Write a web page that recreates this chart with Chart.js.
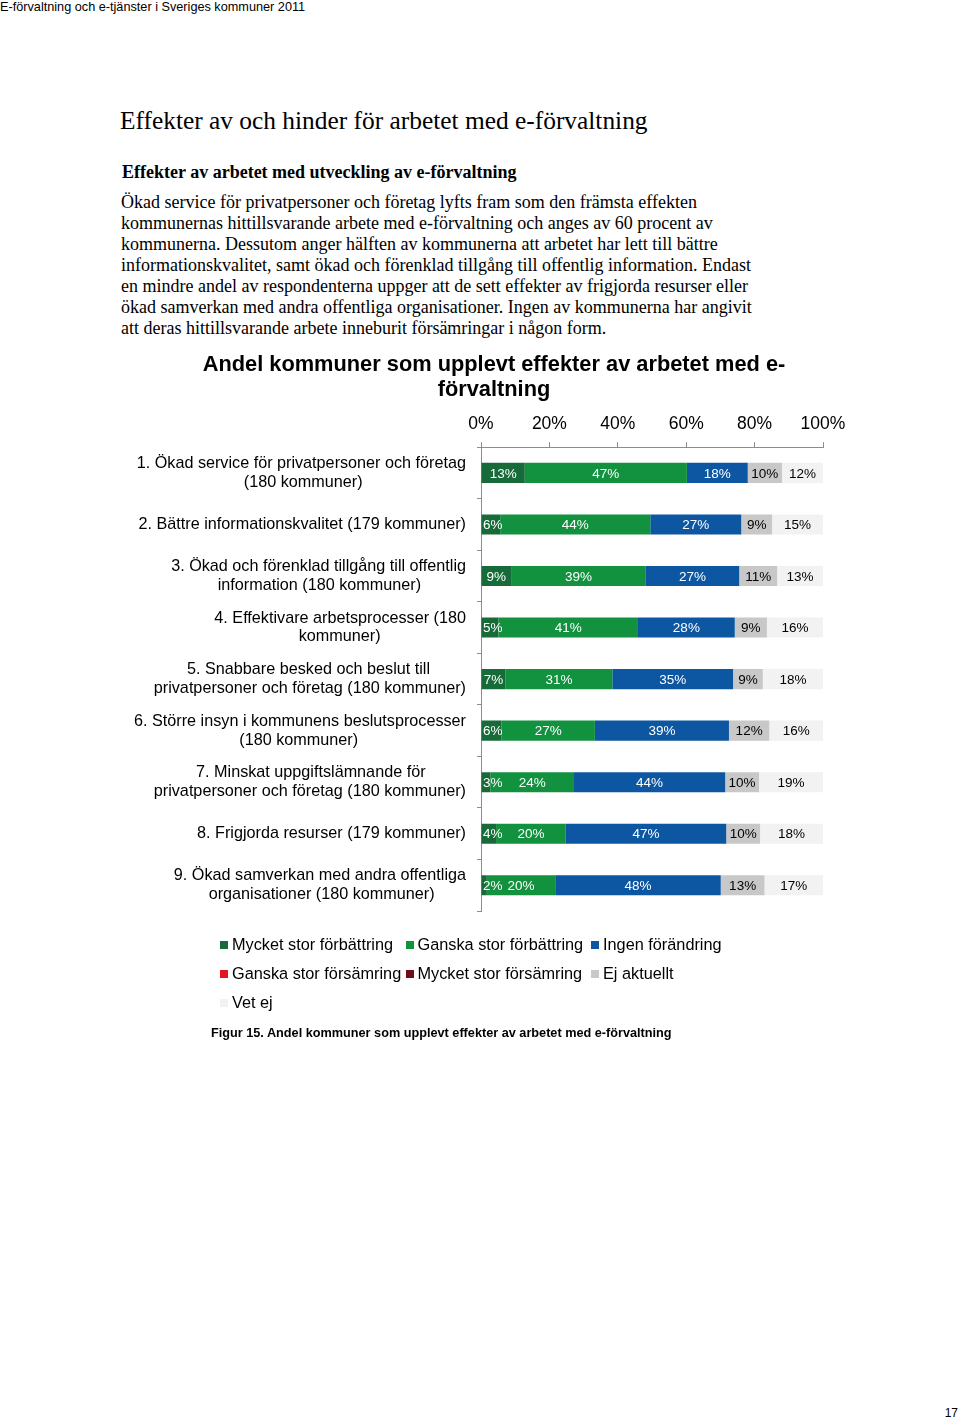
<!DOCTYPE html>
<html lang="sv">
<head>
<meta charset="utf-8">
<title>Andel kommuner som upplevt effekter av arbetet med e-förvaltning</title>
<script src="https://cdn.jsdelivr.net/npm/chart.js@4.4.0/dist/chart.umd.min.js"></script>
<style>
  body { margin: 0; width: 960px; height: 1419px; position: relative; background: #fff; color: #000;
         font-family: "Liberation Sans", Arial, sans-serif; }
  .abs { position: absolute; white-space: nowrap; }
  .serif { font-family: "Liberation Serif", "Times New Roman", serif; }
  #header { left: 0; top: 0; font-size: 12.7px; line-height: 15px; }
  #h1 { left: 120px; top: 105px; font-size: 25.4px; line-height: 30px; }
  #h2 { left: 122px; top: 162px; font-size: 18px; line-height: 21px; font-weight: bold; }
  #body { left: 121px; top: 192px; font-size: 18px; line-height: 21px; }
  #chartBox { left: 120px; top: 341px; width: 748px; height: 600px; }
  #legend { left: 220px; top: 930px; display: grid; grid-template-columns: 185.5px 185.5px 185.5px;
            grid-auto-rows: 29px; font-size: 16.3px; }
  #legend .item { display: flex; align-items: center; }
  #legend .box { width: 8px; height: 8px; margin-right: 4px; flex: none; }
  #caption { left: 211px; top: 1025px; font-size: 12.7px; line-height: 16px; font-weight: bold; }
  #pageno { right: 2px; top: 1405px; font-size: 12px; line-height: 16px; }
</style>
</head>
<body>
<div id="header" class="abs">E-förvaltning och e-tjänster i Sveriges kommuner 2011</div>
<div id="h1" class="abs serif">Effekter av och hinder för arbetet med e-förvaltning</div>
<div id="h2" class="abs serif">Effekter av arbetet med utveckling av e-förvaltning</div>
<div id="body" class="abs serif">Ökad service för privatpersoner och företag lyfts fram som den främsta effekten<br>kommunernas hittillsvarande arbete med e-förvaltning och anges av 60 procent av<br>kommunerna. Dessutom anger hälften av kommunerna att arbetet har lett till bättre<br>informationskvalitet, samt ökad och förenklad tillgång till offentlig information. Endast<br>en mindre andel av respondenterna uppger att de sett effekter av frigjorda resurser eller<br>ökad samverkan med andra offentliga organisationer. Ingen av kommunerna har angivit<br>att deras hittillsvarande arbete inneburit försämringar i någon form.</div>

<div id="chartBox" class="abs"><canvas id="chart" width="748" height="600"></canvas></div>
<div id="legend" class="abs"></div>
<div id="caption" class="abs">Figur 15. Andel kommuner som upplevt effekter av arbetet med e-förvaltning</div>
<div id="pageno" class="abs">17</div>

<script>
//categories (one line per array entry)
const categories = [
  ["1. Ökad service för privatpersoner och företag", "(180 kommuner)"],
  ["2. Bättre informationskvalitet (179 kommuner)"],
  ["3. Ökad och förenklad tillgång till offentlig", "information (180 kommuner)"],
  ["4. Effektivare arbetsprocesser (180", "kommuner)"],
  ["5. Snabbare besked och beslut till", "privatpersoner och företag (180 kommuner)"],
  ["6. Större insyn i kommunens beslutsprocesser", "(180 kommuner)"],
  ["7. Minskat uppgiftslämnande för", "privatpersoner och företag (180 kommuner)"],
  ["8. Frigjorda resurser (179 kommuner)"],
  ["9. Ökad samverkan med andra offentliga", "organisationer (180 kommuner)"]
];

//series values in percent
const mycketStorForbattring = [12.8, 5.6, 8.8, 5.1, 7.2, 6.0, 2.8, 4.4, 1.7];
const ganskaStorForbattring = [47.4, 43.9, 39.4, 40.8, 31.2, 27.3, 24.4, 20.4, 20.0];
const ingenForandring = [17.8, 26.6, 27.3, 28.3, 35.3, 39.2, 44.2, 46.9, 48.4];
const ganskaStorForsamring = [0, 0, 0, 0, 0, 0, 0, 0, 0];
const mycketStorForsamring = [0, 0, 0, 0, 0, 0, 0, 0, 0];
const ejAktuellt = [10.0, 9.0, 11.1, 9.4, 8.7, 11.8, 9.9, 9.9, 12.8];
const vetEj = [12.0, 14.9, 13.4, 16.4, 17.6, 15.7, 18.7, 18.4, 17.1];

const seriesNames = [
  "Mycket stor förbättring",
  "Ganska stor förbättring",
  "Ingen förändring",
  "Ganska stor försämring",
  "Mycket stor försämring",
  "Ej aktuellt",
  "Vet ej"
];

//x axis tick values
const xTicks = [0, 20, 40, 60, 80, 100];

//styles
const seriesColors = ["#176b38", "#12913f", "#0d56a1", "#e3161b", "#6e0d14", "#c8c8c8", "#f2f2f2"];
const labelColors = ["#fff", "#fff", "#fff", "#fff", "#fff", "#000", "#000"];
const axisColor = "#8c8c8c";
const FONT = "'Liberation Sans', Arial, sans-serif";
const Y_FONT_SIZE = 16.2;

const seriesValues = [
  mycketStorForbattring, ganskaStorForbattring, ingenForandring,
  ganskaStorForsamring, mycketStorForsamring, ejAktuellt, vetEj
];

//percent labels centred in each segment
const barLabels = {
  id: "barLabels",
  afterDatasetsDraw(chart) {
    const ctx = chart.ctx;
    const area = chart.chartArea;
    ctx.save();
    ctx.font = "13.5px " + FONT;
    ctx.textBaseline = "middle";
    ctx.textAlign = "left";
    for (let i = 0; i < chart.data.labels.length; i++) {
      let prevRight = area.left - 4;
      chart.data.datasets.forEach((ds, d) => {
        const v = ds.data[i];
        if (!v) return;
        const bar = chart.getDatasetMeta(d).data[i];
        const txt = Math.round(v) + "%";
        const w = ctx.measureText(txt).width;
        const center = (bar.x + bar.base) / 2;
        const left = Math.max(center - w / 2, area.left + 2, prevRight + 4);
        ctx.fillStyle = labelColors[d];
        ctx.fillText(txt, left, bar.y + 1);
        prevRight = left + w;
      });
    }
    ctx.restore();
  }
};

//centre the title over the whole canvas, not just inside the right padding
const centerTitle = {
  id: "centerTitle",
  afterLayout(chart) {
    if (chart.titleBlock) {
      chart.titleBlock.left = 0;
      chart.titleBlock.right = chart.width;
    }
  }
};

//legend built from the same series lists
const legend = document.getElementById("legend");
seriesNames.forEach((name, i) => {
  const item = document.createElement("div");
  item.className = "item";
  const box = document.createElement("span");
  box.className = "box";
  box.style.background = seriesColors[i];
  item.appendChild(box);
  item.appendChild(document.createTextNode(name));
  legend.appendChild(item);
});

const ctx = document.getElementById("chart").getContext("2d");
new Chart(ctx, {
  type: "bar",
  data: {
    labels: categories,
    datasets: seriesNames.map((name, i) => ({
      label: name,
      data: seriesValues[i],
      backgroundColor: seriesColors[i],
      borderWidth: 0,
      barPercentage: 0.39,
      categoryPercentage: 1
    }))
  },
  options: {
    indexAxis: "y",
    responsive: false,
    animation: false,
    layout: { padding: { left: 0, right: 45, top: 0, bottom: 5 } },
    plugins: {
      legend: { display: false },
      tooltip: { enabled: false },
      title: {
        display: true,
        text: ["Andel kommuner som upplevt effekter av arbetet med e-", "förvaltning"],
        color: "#000",
        font: { family: FONT, size: 21.8, weight: "bold", lineHeight: 1.15 },
        padding: { top: 11, bottom: 5 }
      }
    },
    scales: {
      x: {
        position: "top",
        stacked: true,
        min: 0,
        max: 100,
        afterBuildTicks: (scale) => {
          scale.ticks = xTicks.map((v) => ({ value: v }));
        },
        ticks: {
          color: "#000",
          padding: 7,
          font: { family: FONT, size: 17.5 },
          callback: (v) => v + "%"
        },
        grid: { drawOnChartArea: false, tickLength: 5, color: axisColor },
        border: { color: axisColor }
      },
      y: {
        stacked: true,
        afterFit: (scale) => { scale.width = 361; },
        ticks: {
          color: "#000",
          padding: 11,
          font: { family: FONT, size: Y_FONT_SIZE, lineHeight: 1.17 },
          //centre the lines of each label as a block
          callback: function (value) {
            const lines = this.getLabelForValue(value);
            if (!Array.isArray(lines) || lines.length < 2) return lines;
            const c = this.ctx;
            c.save();
            c.font = Y_FONT_SIZE + "px " + FONT;
            const widths = lines.map((l) => c.measureText(l).width);
            const sp = c.measureText("\u00a0").width;
            c.restore();
            const maxW = Math.max(...widths);
            return lines.map((l, k) => l + "\u00a0".repeat(Math.round((maxW - widths[k]) / 2 / sp)));
          }
        },
        grid: { drawOnChartArea: false, tickLength: 4, color: axisColor, offset: true },
        border: { color: axisColor }
      }
    }
  },
  plugins: [barLabels, centerTitle]
});
</script>
</body>
</html>
